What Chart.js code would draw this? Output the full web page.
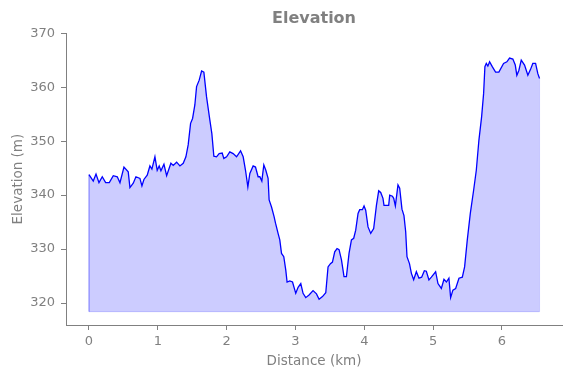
<!DOCTYPE html>
<html>
<head>
<meta charset="utf-8">
<script src="https://cdn.jsdelivr.net/npm/chart.js@4/dist/chart.umd.min.js"></script>
<style>
  body { margin: 0; background: #fff; }
  #wrap { width: 571px; height: 378px; }
</style>
</head>
<body>
<div id="wrap"><canvas id="chart"></canvas></div>
<script>
// distance along the track (km) and elevation (m)
const distance = [
  0.000, 0.062, 0.102, 0.145, 0.193, 0.242, 0.295, 0.353, 0.411, 0.450,
  0.508, 0.570, 0.595, 0.643, 0.682, 0.740, 0.769, 0.798, 0.846, 0.885,
  0.914, 0.958, 0.991, 1.020, 1.045, 1.089, 1.128, 1.190, 1.224, 1.273,
  1.321, 1.369, 1.408, 1.441, 1.476, 1.505, 1.538, 1.563, 1.601, 1.636,
  1.669, 1.708, 1.756, 1.785, 1.814, 1.853, 1.891, 1.935, 1.959, 1.999,
  2.046, 2.094, 2.144, 2.202, 2.240, 2.274, 2.308, 2.337, 2.385, 2.419,
  2.457, 2.482, 2.511, 2.540, 2.569, 2.602, 2.617, 2.652, 2.689, 2.710,
  2.747, 2.772, 2.797, 2.830, 2.859, 2.878, 2.917, 2.957, 3.004, 3.038,
  3.077, 3.110, 3.149, 3.197, 3.255, 3.305, 3.343, 3.392, 3.440, 3.473,
  3.508, 3.537, 3.570, 3.604, 3.633, 3.668, 3.705, 3.740, 3.778, 3.813,
  3.846, 3.875, 3.909, 3.933, 3.972, 3.996, 4.020, 4.054, 4.093, 4.136,
  4.176, 4.209, 4.238, 4.271, 4.286, 4.321, 4.354, 4.369, 4.408, 4.427,
  4.451, 4.489, 4.514, 4.547, 4.576, 4.601, 4.620, 4.656, 4.684, 4.717,
  4.756, 4.794, 4.833, 4.872, 4.901, 4.939, 4.974, 5.036, 5.070, 5.119,
  5.157, 5.193, 5.229, 5.254, 5.287, 5.327, 5.375, 5.424, 5.457, 5.496,
  5.540, 5.588, 5.627, 5.665, 5.704, 5.733, 5.752, 5.772, 5.795, 5.820,
  5.859, 5.907, 5.955, 6.023, 6.071, 6.110, 6.158, 6.193, 6.216, 6.245,
  6.280, 6.328, 6.376, 6.415, 6.448, 6.488, 6.521, 6.546
];
const elevation = [
  343.8, 342.6, 343.9, 342.3, 343.4, 342.3, 342.3, 343.6, 343.4, 342.3,
  345.2, 344.3, 341.4, 342.2, 343.4, 343.1, 341.7, 342.9, 343.7, 345.4,
  344.8, 347.1, 344.6, 345.4, 344.5, 345.7, 343.6, 345.9, 345.5, 346.1,
  345.4, 345.9, 347.1, 349.3, 353.3, 354.2, 356.7, 360.1, 361.3, 363.0,
  362.8, 358.2, 353.9, 351.4, 347.2, 347.1, 347.7, 347.8, 346.8, 347.1,
  348.0, 347.7, 347.1, 348.2, 347.1, 344.6, 341.5, 344.0, 345.4, 345.2,
  343.4, 343.4, 342.6, 345.6, 344.6, 343.1, 339.1, 337.8, 336.0, 334.8,
  332.9, 331.7, 329.2, 328.6, 326.1, 323.9, 324.1, 323.9, 321.8, 322.9,
  323.6, 321.8, 321.0, 321.5, 322.3, 321.7, 320.7, 321.2, 321.9, 326.7,
  327.3, 327.6, 329.5, 330.1, 329.9, 328.0, 324.9, 324.9, 329.2, 331.7,
  332.0, 333.5, 336.6, 337.3, 337.3, 338.0, 337.2, 334.1, 332.9, 333.8,
  338.1, 340.8, 340.5, 339.4, 338.1, 338.1, 338.1, 340.0, 339.8, 339.4,
  338.0, 341.9, 341.3, 337.4, 336.2, 333.2, 328.6, 327.3, 325.5, 324.3,
  325.8, 324.6, 324.8, 326.0, 325.9, 324.3, 324.8, 325.8, 323.6, 322.7,
  324.4, 323.9, 324.6, 321.0, 322.4, 322.7, 324.6, 324.8, 326.7, 331.7,
  336.6, 340.9, 344.6, 350.2, 354.5, 358.8, 363.8, 364.4, 363.9, 364.7,
  363.8, 362.8, 362.8, 364.4, 364.7, 365.4, 365.2, 364.1, 362.2, 363.1,
  365.0, 364.1, 362.2, 363.3, 364.4, 364.4, 362.5, 361.6
];
const baseElevation = 318.4;
const xTicks = [0, 1, 2, 3, 4, 5, 6];
const yTicks = [320, 330, 340, 350, 360, 370];

const gray = '#808080';
const lastIdx = distance.length - 1;

const profile = distance.map((d, i) => ({ x: d, y: elevation[i] }));
// outline of the filled region (sides and bottom)
const outline = [
  { x: distance[0], y: elevation[0] },
  { x: distance[0], y: baseElevation },
  { x: distance[lastIdx], y: baseElevation },
  { x: distance[lastIdx], y: elevation[lastIdx] }
];

// center the title over the plot area instead of the whole canvas
const titleOverPlot = {
  id: 'titleOverPlot',
  afterLayout(chart) {
    const t = chart.titleBlock;
    if (!t) return;
    t.left = chart.chartArea.left;
    t.right = chart.chartArea.right;
    t.width = t.right - t.left;
  }
};

const ctx = document.getElementById('chart');
const myChart = new Chart(ctx, {
  type: 'line',
  data: {
    datasets: [{
      label: 'Elevation',
      data: profile,
      borderColor: '#0000ff',
      borderWidth: 1.3,
      backgroundColor: 'rgba(0, 0, 255, 0.2)',
      fill: { value: baseElevation },
      pointRadius: 0,
      tension: 0
    }, {
      label: 'outline',
      data: outline,
      borderColor: 'rgba(0, 0, 255, 0.18)',
      borderWidth: 1,
      fill: false,
      pointRadius: 0
    }]
  },
  plugins: [titleOverPlot],
  options: {
    responsive: true,
    maintainAspectRatio: false,
    animation: false,
    layout: {
      padding: { left: 0, right: 9, top: 0, bottom: 0 }
    },
    plugins: {
      legend: { display: false },
      tooltip: { enabled: false },
      title: {
        display: true,
        text: 'Elevation',
        color: gray,
        font: { family: 'DejaVu Sans', size: 16, weight: 'bold' },
        padding: { top: 9, bottom: 5 }
      }
    },
    scales: {
      x: {
        type: 'linear',
        min: -0.334,
        max: 6.872,
        afterBuildTicks: (axis) => { axis.ticks = xTicks.map(v => ({ value: v })); },
        afterFit: (axis) => { axis.height = 53; },
        grid: { drawOnChartArea: false, color: gray, tickLength: 5 },
        border: { color: gray, width: 1 },
        ticks: { color: gray, padding: 4, font: { family: 'DejaVu Sans', size: 13 } },
        title: {
          display: true,
          text: 'Distance (km)',
          color: gray,
          font: { family: 'DejaVu Sans', size: 13.5 },
          padding: { top: 2, bottom: 8 }
        }
      },
      y: {
        min: 315.93,
        max: 370,
        afterBuildTicks: (axis) => { axis.ticks = yTicks.map(v => ({ value: v })); },
        afterFit: (axis) => { axis.width = 66; },
        grid: { drawOnChartArea: false, color: gray, tickLength: 5 },
        border: { color: gray, width: 1 },
        ticks: { color: gray, padding: 6, font: { family: 'DejaVu Sans', size: 13 } },
        title: {
          display: true,
          text: 'Elevation (m)',
          color: gray,
          font: { family: 'DejaVu Sans', size: 13.5 },
          padding: { top: 10, bottom: 4 }
        }
      }
    }
  }
});
</script>
</body>
</html>
